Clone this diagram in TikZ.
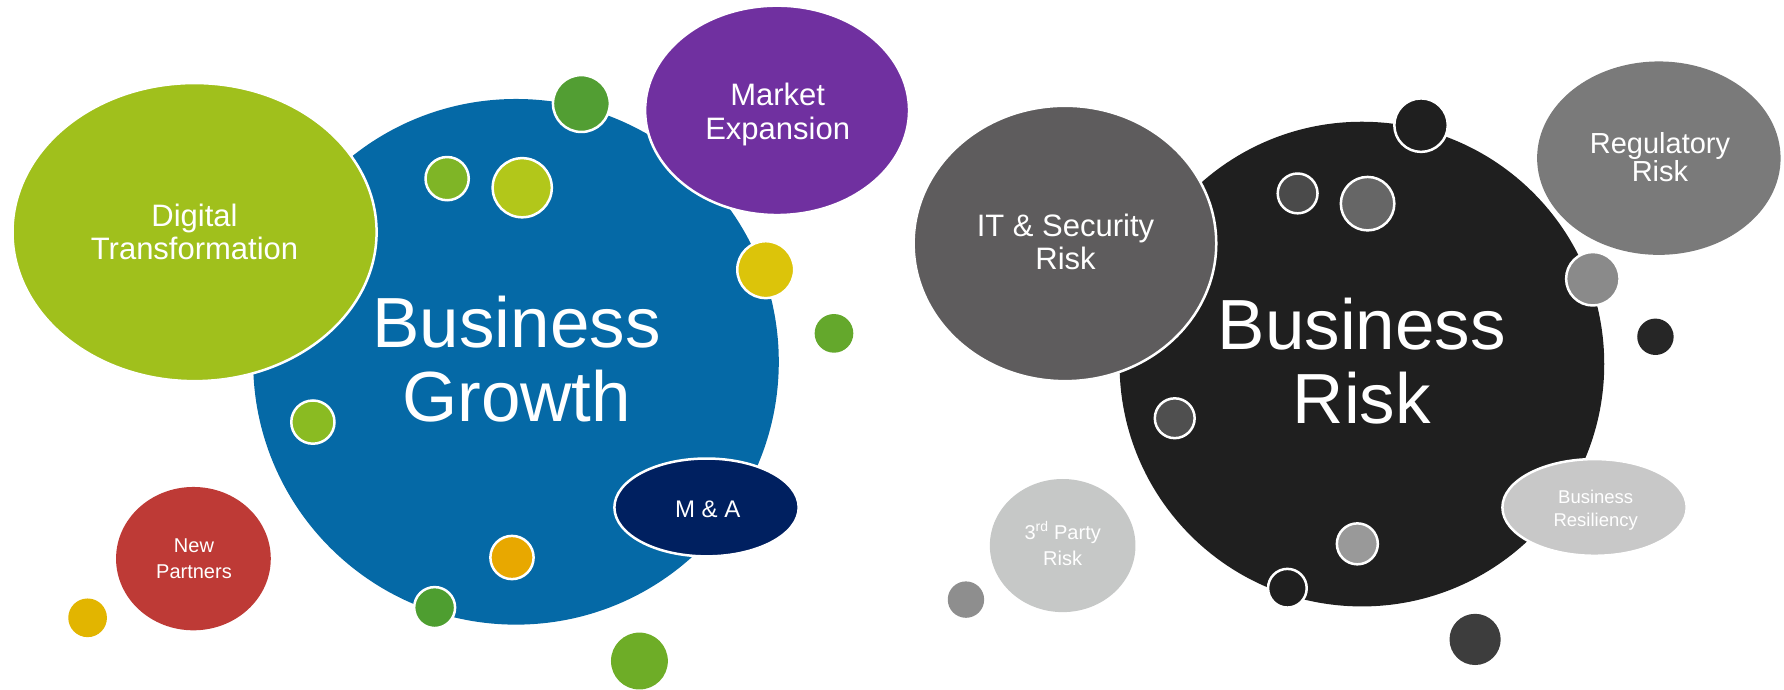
\documentclass[tikz,border=0pt]{standalone}
\usepackage{fontspec}
\setmainfont{Liberation Sans}
\usetikzlibrary{shapes.geometric}
\definecolor{cblue}{RGB}{5,105,166}
\definecolor{cdt}{RGB}{160,192,28}
\definecolor{cpurple}{RGB}{112,48,160}
\definecolor{cgreenA}{RGB}{82,158,51}
\definecolor{cgreenB}{RGB}{127,181,38}
\definecolor{cyg}{RGB}{178,199,26}
\definecolor{cyellow}{RGB}{220,196,10}
\definecolor{cgreenC}{RGB}{100,168,44}
\definecolor{cgreenD}{RGB}{138,187,34}
\definecolor{cnavy}{RGB}{0,32,96}
\definecolor{corange}{RGB}{232,168,0}
\definecolor{cgreenE}{RGB}{78,158,48}
\definecolor{cgreenF}{RGB}{110,173,39}
\definecolor{cred}{RGB}{190,58,54}
\definecolor{cyellowB}{RGB}{226,181,0}
\definecolor{cblack}{RGB}{31,31,31}
\definecolor{cit}{RGB}{94,92,93}
\definecolor{creg}{RGB}{122,122,122}
\definecolor{gA}{RGB}{74,74,74}
\definecolor{gB}{RGB}{102,102,102}
\definecolor{gC}{RGB}{138,138,138}
\definecolor{gD}{RGB}{38,38,38}
\definecolor{gE}{RGB}{79,79,79}
\definecolor{cres}{RGB}{200,200,200}
\definecolor{gF}{RGB}{153,153,153}
\definecolor{gG}{RGB}{61,61,61}
\definecolor{cthird}{RGB}{198,200,199}
\definecolor{gH}{RGB}{142,142,142}
\begin{document}
\begin{tikzpicture}[x=1.1378pt,y=-1.1378pt,
  bub/.style n args={3}{ellipse, inner sep=0pt, fill=#1,
    minimum width={#2*2.2756pt}, minimum height={#3*2.2756pt}},
  wb/.style={draw=white, line width=2.5pt},
  lbl/.style n args={2}{text=white, align=center, inner sep=0pt,
    font=\fontsize{#1}{#2}\selectfont}]
\useasboundingbox (0,0) rectangle (1568,606);
% ---------- Business Growth ----------
\node[bub={cblue}{231}{231}] (bg) at (453.5,318) {};
\node[bub={cdt}{160}{131}, wb] (dt) at (171,204) {};
\node[bub={cpurple}{116}{92}, wb] (me) at (683,97) {};
\node[bub={cnavy}{81}{43}, wb] (ma) at (621,446) {};
\node[bub={cred}{68}{63}] (np) at (170,491) {};
\node[bub={cgreenA}{25}{25}, wb] (d1) at (511,91) {};
\node[bub={cgreenB}{19}{19}, wb] (d2) at (393,157) {};
\node[bub={cyg}{26}{26}, wb] (d3) at (459,165) {};
\node[bub={cyellow}{25}{25}, wb] (d4) at (673,237) {};
\node[bub={cgreenC}{17}{17}] (d5) at (733,293) {};
\node[bub={cgreenD}{19}{19}, wb] (d6) at (275,371) {};
\node[bub={corange}{19}{19}, wb] (d7) at (450,490) {};
\node[bub={cgreenE}{18}{18}, wb] (d8) at (382,534) {};
\node[bub={cgreenF}{25}{25}] (d9) at (562,581) {};
\node[bub={cyellowB}{17}{17}] (d10) at (77,543) {};
\node[lbl={71}{74.6}] (bgT) at (454,315.6) {Business\\Growth};
\node[lbl={31}{33}] (dtT) at (171,203.5) {Digital\\Transformation};
\node[lbl={31}{34}] (meT) at (683.5,100.6) {Market\\Expansion};
\node[lbl={24}{28}] (maT) at (622,448) {M \& A};
\node[lbl={20}{26.2}] (npT) at (170.5,491.2) {New\\Partners};
% ---------- Business Risk ----------
\node[bub={cblack}{213}{213}] (br) at (1197,320) {};
\node[bub={cit}{133}{121}, wb] (it) at (936,214) {};
\node[bub={creg}{107}{85}] (rr) at (1458,139) {};
\node[bub={cres}{81}{42.5}, wb] (rs) at (1401.5,446) {};
\node[bub={cthird}{64}{58.5}] (tp) at (934,479.5) {};
\node[bub={cblack}{23.5}{23.5}, wb] (e1) at (1249,110) {};
\node[bub={gA}{17.5}{17.5}, wb] (e2) at (1140.5,170) {};
\node[bub={gB}{23.5}{23.5}, wb] (e3) at (1202,179) {};
\node[bub={gC}{23.5}{23.5}, wb] (e4) at (1400,245) {};
\node[bub={gD}{16}{16}] (e5) at (1455,296) {};
\node[bub={gE}{17.5}{17.5}, wb] (e6) at (1032.5,367.6) {};
\node[bub={gF}{18}{18}, wb] (e7) at (1193,478) {};
\node[bub={cblack}{17}{17}, wb] (e8) at (1131.5,517) {};
\node[bub={gG}{22.5}{22.5}] (e9) at (1296.5,562) {};
\node[bub={gH}{16}{16}] (e10) at (849,527) {};
\node[lbl={71}{74.6}] (brT) at (1197,317.5) {Business\\Risk};
\node[lbl={31}{33}] (itT) at (936.5,213) {IT \& Security\\Risk};
\node[lbl={29}{28.4}] (rrT) at (1459,138.2) {Regulatory\\Risk};
\node[lbl={18.5}{22.2}] (rsT) at (1402.5,448.5) {Business\\Resiliency};
\node[lbl={20}{26.2}] (tpT) at (934,478) {3\textsuperscript{rd} Party\\Risk};
\end{tikzpicture}
\end{document}
